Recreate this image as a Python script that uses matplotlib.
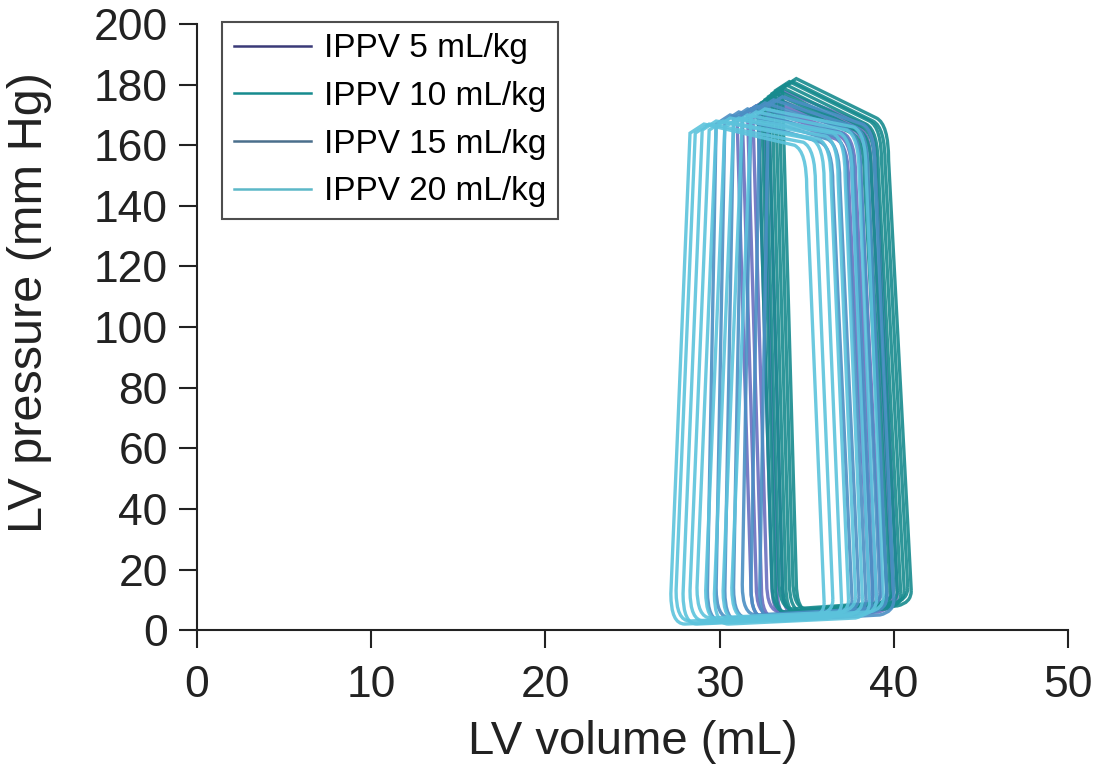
import matplotlib
matplotlib.use("Agg")
import matplotlib.pyplot as plt
from matplotlib.path import Path
from matplotlib.patches import PathPatch
from matplotlib.lines import Line2D

plt.rcParams["font.family"] = ["Liberation Sans", "DejaVu Sans"]

# =========================
# 数据 (从图中读取的每个压力-容积环参数)
# esv: 左上角容积, edv: 右下角容积, p_top: 环最高压, p_right: 右上角压力
# =========================

labels = ["IPPV 5 mL/kg", "IPPV 10 mL/kg", "IPPV 15 mL/kg", "IPPV 20 mL/kg"]

esv_5 = [31.0, 31.3, 31.6, 31.9, 32.2, 32.5, 32.8]
edv_5 = [38.6, 38.8, 39.0, 39.3, 39.6, 39.9, 40.2]
ptop_5 = [172, 173, 174, 175, 176, 177, 178]
pright_5 = [160, 161, 162, 163, 163, 164, 165]
plow_5 = [4, 5, 4, 6, 5, 4, 5]

esv_10 = [32.2, 32.4, 32.6, 32.8, 33.0, 33.2, 33.4, 33.6]
edv_10 = [39.6, 39.8, 40.0, 40.2, 40.4, 40.6, 40.8, 41.0]
ptop_10 = [176, 177, 178, 179, 180, 181, 181, 182]
pright_10 = [162, 163, 163, 164, 165, 166, 166, 167]
plow_10 = [6, 5, 7, 6, 5, 6, 7, 6]

esv_15 = [29.8, 30.3, 30.8, 31.3, 31.8, 32.3, 32.8]
edv_15 = [37.6, 38.0, 38.4, 38.8, 39.2, 39.6, 40.0]
ptop_15 = [170, 171, 172, 173, 174, 175, 176]
pright_15 = [159, 160, 161, 162, 163, 164, 165]
plow_15 = [3, 4, 3, 4, 5, 4, 3]

esv_20 = [28.3, 28.6, 29.0, 29.4, 29.8, 30.3, 30.8, 31.3, 31.8]
edv_20 = [36.0, 36.5, 37.0, 37.4, 37.8, 38.2, 38.6, 39.0, 39.4]
ptop_20 = [167, 167, 168, 168, 169, 169, 170, 171, 172]
pright_20 = [158, 159, 160, 160, 161, 162, 162, 163, 164]
plow_20 = [2, 3, 2, 3, 4, 3, 2, 3, 4]

# 左/右边的倾斜 (底部相对顶部的容积偏移)
tilt_left = [-0.8, -0.8, 0.5, 1.1]
tilt_right = [1.2, 1.3, 1.1, 1.0]

colors = ["#6a6fbf", "#178b8e", "#4b8fc4", "#5cc3dc"]
legend_colors = ["#3a3a78", "#178b8e", "#4a6f8c", "#5cb8c8"]


def loop_path(esv, edv, p_top, p_right, p_low, tl, tr):
    """
    按环参数构造一个压力-容积环的Path
    """
    edv_top = edv - tr
    esv_bot = esv - tl
    verts = [
        (edv, p_low + 7),
        (edv_top, p_right - 12),
        (edv_top, p_right), (edv_top - 0.7, p_right + 2),
        (esv + 0.8, p_top),
        (esv, p_top - 3),
        (esv_bot, p_low + 10),
        (esv_bot, p_low), (esv_bot + 0.8, p_low),
        (edv - 0.8, p_low + 2),
        (edv, p_low + 3), (edv, p_low + 7),
    ]
    codes = [
        Path.MOVETO,
        Path.LINETO,
        Path.CURVE3, Path.CURVE3,
        Path.LINETO,
        Path.LINETO,
        Path.LINETO,
        Path.CURVE3, Path.CURVE3,
        Path.LINETO,
        Path.CURVE3, Path.CURVE3,
    ]
    return Path(verts, codes)


series = [
    (esv_5, edv_5, ptop_5, pright_5, plow_5),
    (esv_10, edv_10, ptop_10, pright_10, plow_10),
    (esv_15, edv_15, ptop_15, pright_15, plow_15),
    (esv_20, edv_20, ptop_20, pright_20, plow_20),
]

draw_order = [0, 2, 1, 3]

fig = plt.figure(figsize=(10.97, 7.76), dpi=100)
ax = fig.add_axes([0.1796, 0.188, 0.794, 0.781])

for i in draw_order:
    esv, edv, ptop, pright, plow = series[i]
    for k in range(len(esv)):
        p = loop_path(esv[k], edv[k], ptop[k], pright[k], plow[k],
                      tilt_left[i], tilt_right[i])
        ax.add_patch(PathPatch(p, fill=False, edgecolor=colors[i],
                               lw=2.4, alpha=0.9, zorder=2 + i * 0.1))

ax.set_xlim(0, 50)
ax.set_ylim(0, 200)
ax.set_xticks(range(0, 51, 10))
ax.set_yticks(range(0, 201, 20))

for side in ["top", "right"]:
    ax.spines[side].set_visible(False)
for side in ["left", "bottom"]:
    ax.spines[side].set_linewidth(1.5)
    ax.spines[side].set_color("#222222")

ax.tick_params(axis="both", direction="out", length=13, width=1.5,
               labelsize=32, colors="#222222")
ax.tick_params(axis="y", pad=8)
ax.tick_params(axis="x", pad=12)

ax.set_xlabel("LV volume (mL)", fontsize=34, color="#222222", labelpad=10)
ax.set_ylabel("LV pressure (mm Hg)", fontsize=35, color="#222222")
ax.yaxis.set_label_coords(-0.166, 0.54)

handles = [Line2D([0], [0], color=c, lw=1.8) for c in legend_colors]
leg = ax.legend(handles, labels, loc="upper left", fontsize=24,
                frameon=True, fancybox=False, edgecolor="#222222",
                handlelength=2.3, handletextpad=0.4, labelspacing=0.5,
                borderpad=0.35, borderaxespad=0,
                bbox_to_anchor=(0.029, 1.004))
leg.get_frame().set_linewidth(1.5)

fig.savefig("out.png", dpi=100)
